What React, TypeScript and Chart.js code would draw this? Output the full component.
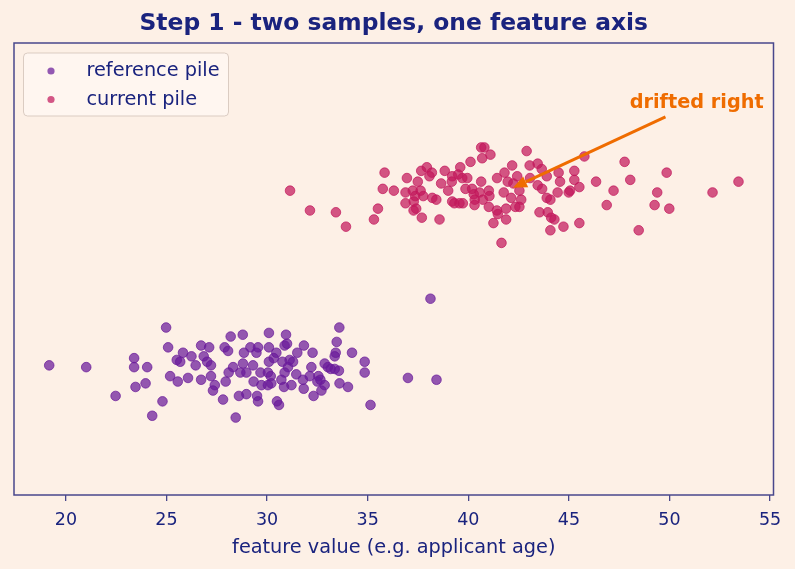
import { useEffect, useRef } from "react";
import { Chart, registerables } from "chart.js";

Chart.register(...registerables);

// ---- text ----
const TITLE = "Step 1 - two samples, one feature axis";
const X_LABEL = "feature value (e.g. applicant age)";
const SERIES_LABELS = ["reference pile", "current pile"];
const NOTE_TEXT = "drifted right";

// ---- axis ----
const xTicks = [20, 25, 30, 35, 40, 45, 50, 55];
const X_MIN = 17.42;
const X_MAX = 55.17;
const Y_MIN = -0.7;
const Y_MAX = 1.81;

// ---- samples: [feature value, vertical jitter] ----
const referencePile: number[][] = [
  [24.98, 0.23], [19.17, 0.02], [21.01, 0.01], [23.39, 0.06], [23.39, 0.01], [24.04, 0.01],
  [25.08, 0.12], [25.51, 0.05], [25.68, 0.04], [25.82, 0.09], [26.24, 0.07], [26.45, 0.02],
  [26.72, 0.13], [27.12, 0.12], [26.85, 0.07], [27.02, 0.04], [27.21, 0.02], [25.18, -0.04],
  [25.56, -0.07], [26.07, -0.05], [26.72, -0.06], [27.21, -0.04], [27.31, -0.12], [23.46, -0.1],
  [23.96, -0.08], [22.47, -0.15], [24.8, -0.18], [24.29, -0.26],
  [33.59, 0.23], [28.19, 0.18], [28.79, 0.19], [30.09, 0.2], [30.94, 0.19], [33.46, 0.15],
  [27.89, 0.12], [28.06, 0.1], [29.17, 0.12], [29.55, 0.12], [29.47, 0.09], [30.09, 0.12],
  [30.87, 0.13], [30.99, 0.14], [31.83, 0.13], [31.5, 0.09], [32.26, 0.09], [28.85, 0.09],
  [30.46, 0.09], [30.33, 0.06], [33.41, 0.09], [33.36, 0.07], [34.22, 0.09], [34.85, 0.04],
  [28.31, 0.01], [28.8, 0.03], [29.3, 0.02], [30.09, 0.04], [30.76, 0.04], [31.12, 0.05],
  [31.29, 0.04], [31.04, 0.01], [32.2, 0.01], [32.86, 0.03], [33.02, 0.01], [33.16, 0.0],
  [33.36, 0.0], [33.57, -0.01], [34.85, -0.02], [28.09, -0.02], [28.67, -0.02], [28.97, -0.02],
  [29.67, -0.02], [30.04, -0.02], [30.18, -0.04], [30.87, -0.02], [31.45, -0.03], [32.12, -0.04],
  [32.55, -0.04], [32.65, -0.06], [27.94, -0.07], [29.33, -0.07], [29.72, -0.09], [30.04, -0.09],
  [30.21, -0.08], [30.71, -0.06], [31.21, -0.09], [30.84, -0.1], [31.78, -0.06], [31.82, -0.11],
  [32.5, -0.07], [32.86, -0.09], [32.7, -0.12], [33.6, -0.08], [34.02, -0.1], [27.4, -0.09],
  [28.6, -0.15], [28.97, -0.14], [29.5, -0.15], [29.55, -0.18], [27.81, -0.17], [30.49, -0.18],
  [30.59, -0.2], [32.31, -0.15], [28.44, -0.27], [35.14, -0.2], [38.12, 0.39], [37.0, -0.05],
  [38.42, -0.06],
];

const currentPile: number[][] = [
  [31.14, 0.99], [32.13, 0.88], [33.42, 0.87], [33.92, 0.79], [35.84, 1.09], [35.75, 1.0],
  [36.3, 0.99], [35.51, 0.89], [35.31, 0.83], [36.95, 1.06], [37.49, 1.04], [37.66, 1.1],
  [37.94, 1.12], [38.19, 1.09], [38.07, 1.07], [36.88, 0.98], [37.24, 0.99], [37.63, 0.99],
  [37.36, 0.96], [37.76, 0.96], [37.29, 0.93], [36.88, 0.92], [37.41, 0.89], [37.28, 0.88],
  [38.21, 0.95], [38.41, 0.94], [37.69, 0.84],
  [38.57, 0.83], [38.65, 1.03], [38.83, 1.1], [39.0, 0.99], [39.2, 1.07], [39.18, 1.04],
  [39.5, 1.08], [39.6, 1.12], [39.7, 1.06], [39.95, 1.06], [39.86, 1.0], [40.11, 1.15],
  [39.2, 0.93], [39.31, 0.92], [39.56, 0.92], [39.73, 0.92], [40.64, 1.23], [40.8, 1.23],
  [40.69, 1.17], [41.1, 1.19], [40.19, 1.0], [40.64, 1.04], [40.27, 0.97], [40.56, 0.98],
  [41.02, 0.99], [41.05, 0.96], [40.32, 0.94], [40.72, 0.94], [40.31, 0.91], [41.02, 0.9],
  [41.42, 0.88], [41.47, 0.86], [41.88, 0.83], [41.25, 0.81], [41.65, 0.7], [41.43, 1.06],
  [41.8, 1.09], [41.96, 1.04], [42.18, 1.13], [42.43, 1.07], [42.9, 1.21], [43.05, 1.13],
  [43.45, 1.14], [43.65, 1.11], [43.07, 1.06], [43.45, 1.02], [43.67, 1.0], [43.9, 1.07],
  [44.49, 1.09], [44.56, 1.04], [45.27, 1.1], [45.27, 1.05], [45.52, 1.01], [45.06, 0.99],
  [44.99, 0.98], [44.44, 0.98], [43.9, 0.95], [44.08, 0.94], [42.54, 0.99], [42.63, 0.94],
  [42.54, 0.9], [42.13, 0.95], [41.88, 0.89], [42.34, 0.9], [41.76, 0.98], [42.24, 1.03],
  [43.54, 0.87], [43.95, 0.87], [44.12, 0.84], [44.28, 0.83], [44.08, 0.77], [44.73, 0.79],
  [45.52, 0.81], [45.77, 1.18], [46.35, 1.04],
  [47.77, 1.15], [49.86, 1.09], [48.05, 1.05], [47.22, 0.99], [49.39, 0.98], [52.14, 0.98],
  [53.43, 1.04], [46.88, 0.91], [49.26, 0.91], [49.99, 0.89], [48.47, 0.77],
];

// ---- annotation anchors (data space) ----
const arrowTail = [49.8, 1.4];
const arrowTip = [42.22, 1.006];
const notePos = [51.35, 1.475];

// ---- palette ----
const BG = "#fdf0e6";
const NAVY = "#1a237e";
const SPINE = "#48478c";
const ORANGE = "#ef6c00";
const PURPLE = "rgba(106, 27, 154, 0.72)";
const CRIMSON = "rgba(194, 24, 91, 0.72)";
const FONT = "'DejaVu Sans', sans-serif";

const decorations = {
  id: "decorations",
  beforeDraw(chart: any) {
    const { ctx, width, height, chartArea } = chart;
    ctx.save();
    ctx.fillStyle = BG;
    ctx.fillRect(0, 0, width, height);
    ctx.fillStyle = NAVY;
    ctx.font = `bold 23.4px ${FONT}`;
    ctx.textAlign = "center";
    ctx.textBaseline = "middle";
    ctx.fillText(TITLE, (chartArea.left + chartArea.right) / 2, 24);
    ctx.restore();
  },
  afterDatasetsDraw(chart: any) {
    const { ctx, chartArea } = chart;
    const xs = chart.scales.x;
    const ys = chart.scales.y;
    ctx.save();

    // annotation arrow
    const tx = xs.getPixelForValue(arrowTail[0]);
    const ty = ys.getPixelForValue(arrowTail[1]);
    const hx = xs.getPixelForValue(arrowTip[0]);
    const hy = ys.getPixelForValue(arrowTip[1]);
    const ang = Math.atan2(hy - ty, hx - tx);
    const headLen = 14;
    const headHalf = 6;
    const bx = hx - Math.cos(ang) * headLen;
    const by = hy - Math.sin(ang) * headLen;
    ctx.strokeStyle = ORANGE;
    ctx.fillStyle = ORANGE;
    ctx.lineWidth = 3;
    ctx.beginPath();
    ctx.moveTo(tx, ty);
    ctx.lineTo(bx, by);
    ctx.stroke();
    ctx.beginPath();
    ctx.moveTo(hx, hy);
    ctx.lineTo(bx + Math.sin(ang) * headHalf, by - Math.cos(ang) * headHalf);
    ctx.lineTo(bx - Math.sin(ang) * headHalf, by + Math.cos(ang) * headHalf);
    ctx.closePath();
    ctx.fill();

    ctx.font = `bold 19.3px ${FONT}`;
    ctx.textAlign = "center";
    ctx.textBaseline = "middle";
    ctx.fillText(NOTE_TEXT, xs.getPixelForValue(notePos[0]), ys.getPixelForValue(notePos[1]));

    // frame
    ctx.strokeStyle = SPINE;
    ctx.lineWidth = 1.5;
    ctx.strokeRect(chartArea.left, chartArea.top, chartArea.right - chartArea.left, chartArea.bottom - chartArea.top);

    // legend
    const lx = chartArea.left + 9.5;
    const ly = chartArea.top + 10;
    const lw = 205;
    const lh = 63;
    ctx.beginPath();
    ctx.roundRect(lx, ly, lw, lh, 4);
    ctx.fillStyle = "rgba(255, 248, 242, 0.8)";
    ctx.fill();
    ctx.strokeStyle = "rgba(215, 200, 190, 0.9)";
    ctx.lineWidth = 1;
    ctx.stroke();
    const colors = [PURPLE, CRIMSON];
    ctx.font = `19.3px ${FONT}`;
    ctx.textAlign = "left";
    ctx.textBaseline = "middle";
    SERIES_LABELS.forEach((label, i) => {
      const cy = ly + 18 + i * 28.5;
      ctx.beginPath();
      ctx.arc(lx + 27.5, cy, 3.6, 0, Math.PI * 2);
      ctx.fillStyle = colors[i];
      ctx.fill();
      ctx.fillStyle = NAVY;
      ctx.fillText(label, lx + 63, cy);
    });
    ctx.restore();
  },
};

export default function App() {
  const canvasRef = useRef<HTMLCanvasElement | null>(null);

  useEffect(() => {
    document.body.style.margin = "0";
    document.body.style.background = BG;
    const canvas = canvasRef.current;
    if (!canvas) return;
    const toPoints = (rows: number[][]) => rows.map(([x, y]) => ({ x, y }));
    const chart = new Chart(canvas, {
      type: "scatter",
      data: {
        datasets: [
          {
            label: SERIES_LABELS[0],
            data: toPoints(referencePile),
            backgroundColor: PURPLE,
            borderColor: PURPLE,
            borderWidth: 1,
            pointRadius: 4.8,
          },
          {
            label: SERIES_LABELS[1],
            data: toPoints(currentPile),
            backgroundColor: CRIMSON,
            borderColor: CRIMSON,
            borderWidth: 1,
            pointRadius: 4.8,
          },
        ],
      },
      options: {
        animation: false,
        responsive: false,
        maintainAspectRatio: false,
        layout: { padding: { top: 43, left: 14, right: 21.5, bottom: 0 } },
        plugins: {
          legend: { display: false },
          title: { display: false },
          tooltip: { enabled: false },
        },
        scales: {
          x: {
            type: "linear",
            min: X_MIN,
            max: X_MAX,
            afterBuildTicks: (s: any) => {
              s.ticks = xTicks.map((v) => ({ value: v }));
            },
            afterFit: (s: any) => {
              s.height = 74;
            },
            grid: {
              display: true,
              drawOnChartArea: false,
              drawTicks: true,
              tickLength: 6,
              color: SPINE,
              lineWidth: 1.3,
            },
            border: { display: false },
            ticks: {
              color: NAVY,
              font: { family: FONT, size: 17.5 },
              padding: 9,
              maxRotation: 0,
              autoSkip: false,
            },
            title: {
              display: true,
              text: X_LABEL,
              color: NAVY,
              font: { family: FONT, size: 19.3 },
              padding: { top: 0, bottom: 9 },
            },
          },
          y: { display: false, min: Y_MIN, max: Y_MAX },
        },
      },
      plugins: [decorations],
    });
    return () => chart.destroy();
  }, []);

  return <canvas ref={canvasRef} width={795} height={569} style={{ display: "block" }} />;
}
